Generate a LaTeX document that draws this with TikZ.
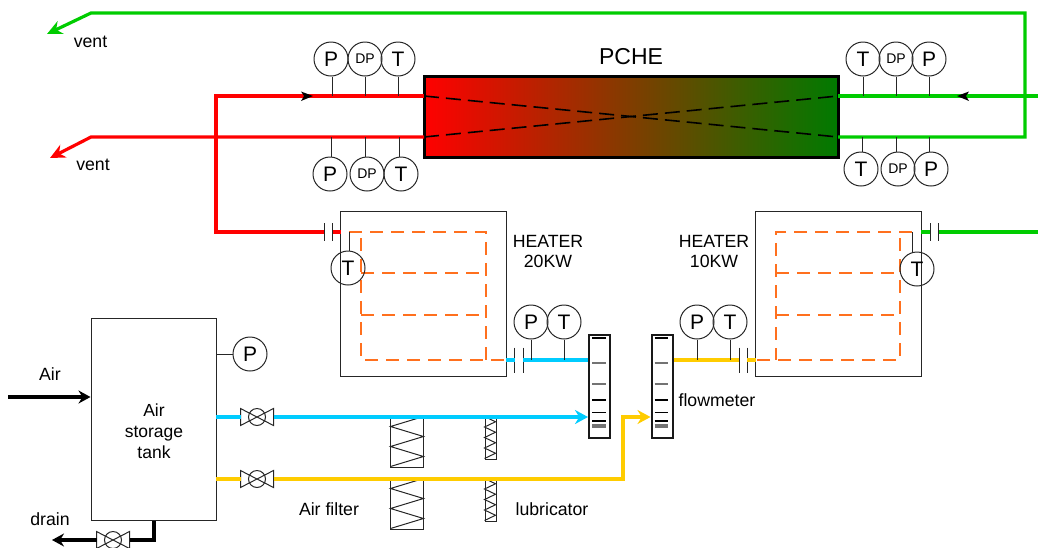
\documentclass[tikz,border=0pt]{standalone}
\usepackage{fontspec}
\setmainfont{Liberation Sans}
\usetikzlibrary{arrows.meta}
\definecolor{pipered}{RGB}{255,0,0}
\definecolor{pipegreen}{RGB}{0,204,0}
\definecolor{pipeblue}{RGB}{0,204,255}
\definecolor{pipeyellow}{RGB}{255,204,0}
\definecolor{coilorange}{RGB}{255,112,30}
\definecolor{coldend}{RGB}{0,122,0}
\tikzset{
    thinline/.style={line width=1pt, black!85},
    pipe/.style={line width=3.2pt, line join=miter},
    thickpipe/.style={line width=3.6pt, black},
    coil/.style={line width=2pt, coilorange, dash pattern=on 13pt off 8pt},
    sensor/.style={circle, draw, thinline, text=black, inner sep=0pt, minimum size=34pt, font=\fontsize{21}{21}\selectfont},
    dpsensor/.style={sensor, font=\fontsize{14}{15}\selectfont},
    label/.style={inner sep=0pt, font=\fontsize{17.7}{20}\selectfont, align=center},
    heater/.style={rectangle, draw, thinline, minimum width=166pt, minimum height=165pt, inner sep=0pt},
    filterbox/.style={rectangle, draw, thinline, minimum width=33pt, minimum height=50pt, inner sep=0pt},
    lubebox/.style={rectangle, draw, thinline, minimum width=11pt, minimum height=42pt, inner sep=0pt},
    meter/.style={rectangle, draw, line width=2pt, black!90, minimum width=21pt, minimum height=103pt, inner sep=0pt},
    valve/.pic={
        \draw[thinline, fill=white] (-16.5,-8.5) -- (16.5,8.5) -- (16.5,-8.5) -- (-16.5,8.5) -- cycle;
        \draw[thinline] (0,0) circle (8.5);
        \coordinate (-w) at (-16.5,0);
        \coordinate (-e) at (16.5,0);
    },
}
\begin{document}
\begin{tikzpicture}[x=1pt,y=-1pt]
    \useasboundingbox (0,0) rectangle (1038,547);
    % exchanger
    \node[rectangle, draw, line width=3pt, left color=pipered, right color=coldend, minimum width=414pt, minimum height=81pt, inner sep=0pt] (pche) at (631,116.5) {};
    \node[label, font=\fontsize{23}{24}\selectfont] (pchetext) at (631,57) {PCHE};
    \coordinate (hotin) at (424,96);
    \coordinate (hotout) at (424,137);
    \coordinate (coldin) at (838,137);
    \coordinate (coldout) at (838,96);
    \draw[line width=1.6pt, dash pattern=on 15pt off 7pt] (hotin) -- (coldin);
    \draw[line width=1.6pt, dash pattern=on 15pt off 7pt] (hotout) -- (coldout);

    % heaters and coils
    \node[heater] (heaterA) at (423,293.5) {};
    \node[heater] (heaterB) at (838,293.5) {};
    \draw[coil] (349,232) -- (486,232) -- (486,360);
    \draw[coil] (361,238) -- (361,360) -- (506,360);
    \draw[coil] (361,273) -- (486,273);
    \draw[coil] (361,315) -- (486,315);
    \draw[coil] (912,232) -- (776,232) -- (776,360);
    \draw[coil] (900,238) -- (900,360) -- (755,360);
    \draw[coil] (776,273) -- (900,273);
    \draw[coil] (776,315) -- (900,315);
    \node[label] (heaterAtext) at (548,251) {HEATER\\20KW};
    \node[label] (heaterBtext) at (714,251) {HEATER\\10KW};

    % tank
    \node[rectangle, draw, thinline, minimum width=125pt, minimum height=202pt, inner sep=0pt] (tank) at (153.5,419) {};
    \node[label, font=\fontsize{17.5}{21}\selectfont] (tanktext) at (154,431) {Air\\storage\\tank};

    % flowmeters
    \node[meter] (meterA) at (599.5,386.5) {};
    \node[meter] (meterB) at (662,386.5) {};
    \foreach \m in {meterA,meterB} {
        \foreach \y/\c in {338/black,363/black!55,384/black!55,400/black,412.5/black,421/black} {
            \draw[line width=1.1pt, \c] (\m.west |- 0,\y) ++(4,0) -- ++(13.5,0);
        }
        \draw[line width=3.5pt, black!55] (\m.west |- 0,426) ++(4,0) -- ++(13.5,0);
    }

    % filters and lubricators
    \foreach \n/\y in {1/442,2/504} {
        \node[filterbox] (filter\n) at (406.5,\y) {};
        \draw[thinline] (filter\n.north east) -- ++(-33,10) -- ++(33,10) -- ++(-33,10) -- ++(33,10) -- ++(-33,10);
    }
    \foreach \n/\y in {1/438,2/500} {
        \node[lubebox] (lube\n) at (490.5,\y) {};
        \draw[thinline] (lube\n.north west) -- ++(11,5.25) -- ++(-11,5.25) -- ++(11,5.25) -- ++(-11,5.25) -- ++(11,5.25) -- ++(-11,5.25) -- ++(11,5.25) -- ++(-11,5.25);
    }

    % red loop
    \coordinate (redcorner) at (216,96);
    \coordinate (redlow) at (216,232);
    \coordinate (capAl) at (324.5,232);
    \coordinate (capAr) at (332.5,232);
    \coordinate (redend) at (341,232);
    \coordinate (ventredbend) at (91,137);
    \coordinate (ventred) at (50,158);
    \draw[pipe, pipered] (hotin) -- (redcorner) -- (redlow) -- (capAl);
    \draw[pipe, pipered] (capAr) -- (redend);
    \draw[pipe, pipered, -{Stealth[length=15pt,width=14pt]}] (hotout) -- (ventredbend) -- (ventred);

    % green loop
    \coordinate (greenin) at (1038,96);
    \coordinate (greenright) at (1025,137);
    \coordinate (greentop) at (1025,13);
    \coordinate (ventgreenbend) at (91,13);
    \coordinate (ventgreen) at (47,34);
    \coordinate (capDl) at (930,232);
    \coordinate (capDr) at (938,232);
    \coordinate (greenstub) at (921,232);
    \coordinate (greenend) at (1038,232);
    \draw[pipe, pipegreen] (greenin) -- (coldout);
    \draw[pipe, pipegreen, -{Stealth[length=15pt,width=14pt]}] (coldin) -- (greenright) -- (greentop) -- (ventgreenbend) -- (ventgreen);
    \draw[pipe, pipegreen] (greenstub) -- (capDl);
    \draw[pipe, pipegreen] (capDr) -- (greenend);

    % flow marks
    \fill (301,91.5) -- (313,96) -- (301,101) -- (304,96) -- cycle;
    \fill (969,91.5) -- (957,96) -- (969,101) -- (966,96) -- cycle;

    % couplings
    \foreach \x/\y/\h in {324.5/232/9,332.5/232/9,514.5/360/12.5,523/360/12.5,739/360/12.5,747/360/12.5,930/232/9,938/232/9} {
        \draw[thinline] (\x,\y-\h) -- (\x,\y+\h);
    }

    % blue and yellow lines
    \pic (valveA) at (257,417) {valve};
    \pic (valveB) at (257,479) {valve};
    \pic (valveC) at (113,540) {valve};
    \coordinate (tankA) at (216,417);
    \coordinate (tankB) at (216,479);
    \coordinate (yellowup) at (623,479);
    \coordinate (yellowin) at (623,417);
    \coordinate (capBl) at (514.5,360);
    \coordinate (capBr) at (523,360);
    \coordinate (capCl) at (739,360);
    \coordinate (capCr) at (747,360);
    \coordinate (heaterAout) at (506,360);
    \coordinate (heaterBin) at (756,360);
    \draw[pipe, pipeblue] (tankA) -- (valveA-w);
    \draw[pipe, pipeblue, -{Stealth[length=13pt,width=14pt]}] (valveA-e) -- (meterA.west |- valveA-e);
    \draw[pipe, pipeblue] (heaterAout) -- (capBl);
    \draw[pipe, pipeblue] (capBr) -- (meterA.west |- capBr);
    \draw[pipe, pipeyellow] (tankB) -- (valveB-w);
    \draw[pipe, pipeyellow, -{Stealth[length=13pt,width=14pt]}] (valveB-e) -- (yellowup) -- (yellowin) -- (meterB.west |- yellowin);
    \draw[pipe, pipeyellow] (meterB.east |- capCl) -- (capCl);
    \draw[pipe, pipeyellow] (capCr) -- (heaterBin);

    % air in and drain
    \coordinate (airstart) at (8,397);
    \coordinate (drainbend) at (154,540);
    \coordinate (drainend) at (52,540);
    \draw[thickpipe, -{Stealth[length=12pt,width=13pt]}] (airstart) -- (tank.west |- airstart);
    \draw[thickpipe] (tank.south -| drainbend) -- (drainbend) -- (valveC-e);
    \draw[thickpipe, -{Stealth[length=12pt,width=13pt]}] (valveC-w) -- (drainend);

    % sensors
    \foreach \n/\t/\s/\x/\y/\px/\py/\a in {
        a/P/sensor/331/59/332/96/south, b/DP/dpsensor/365/59/365/96/south, c/T/sensor/398/59/398/96/south,
        d/P/sensor/330/174/331/137/north, e/DP/dpsensor/367/174/365/137/north, f/T/sensor/401/174/399/137/north,
        g/T/sensor/863/59/863/96/south, h/DP/dpsensor/896/59/896/96/south, i/P/sensor/929/59/929/96/south,
        j/T/sensor/861/169/862/137/north, k/DP/dpsensor/898/169/896/137/north, l/P/sensor/931/169/929/137/north,
        m/P/sensor/531/322/531/360/south, n/T/sensor/564/322/564/360/south,
        o/P/sensor/697/322/697/360/south, p/T/sensor/730/322/730/360/south,
        q/T/sensor/348/268/349/232/north, r/T/sensor/917/269/912/232/north} {
        \coordinate (tap\n) at (\px,\py);
        \node[\s] (sensor\n) at (\x,\y) {\t};
        \draw[thinline] (sensor\n.\a -| tap\n) -- (tap\n);
    }
    \node[sensor] (sensortank) at (250,354) {P};
    \draw[thinline] (sensortank) -- (tank.east |- sensortank);

    % texts
    \node[label] (ventA) at (90.5,42) {vent};
    \node[label] (ventB) at (93,165) {vent};
    \node[label] (airtext) at (50,374) {Air};
    \node[label] (draintext) at (50,519) {drain};
    \node[label] (filtertext) at (329,509) {Air filter};
    \node[label] (lubetext) at (552,509) {lubricator};
    \node[label] (metertext) at (717,400) {flowmeter};
\end{tikzpicture}
\end{document}
